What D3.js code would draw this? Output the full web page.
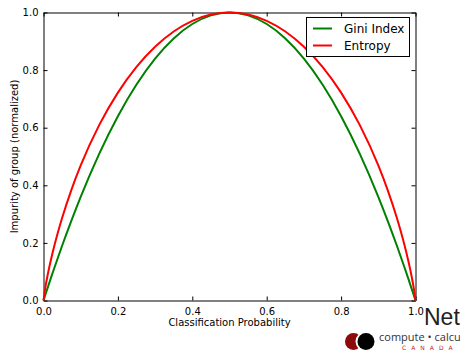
<!DOCTYPE html>
<html><head><meta charset="utf-8">
<script src="https://cdn.jsdelivr.net/npm/d3@7"></script>
<style>body{margin:0;background:#fff;}svg{display:block;font-family:"DejaVu Sans",sans-serif;}</style>
</head><body>
<script>
const probs = [0, 0.005, 0.01, 0.02, 0.03, 0.05, 0.075, 0.1, 0.15, 0.2, 0.25, 0.3, 0.35, 0.4, 0.45, 0.5,
               0.55, 0.6, 0.65, 0.7, 0.75, 0.8, 0.85, 0.9, 0.925, 0.95, 0.97, 0.98, 0.99, 0.995, 1];
const gini = [0, 0.0199, 0.0396, 0.0784, 0.1164, 0.19, 0.2775, 0.36, 0.51, 0.64, 0.75, 0.84, 0.91, 0.96, 0.99, 1.0,
              0.99, 0.96, 0.91, 0.84, 0.75, 0.64, 0.51, 0.36, 0.2775, 0.19, 0.1164, 0.0784, 0.0396, 0.0199, 0];
const entropy = [0, 0.0454, 0.0808, 0.1414, 0.1944, 0.2864, 0.3843, 0.469, 0.6098, 0.7219, 0.8113, 0.8813, 0.9341, 0.971, 0.9928, 1.0,
                 0.9928, 0.971, 0.9341, 0.8813, 0.8113, 0.7219, 0.6098, 0.469, 0.3843, 0.2864, 0.1944, 0.1414, 0.0808, 0.0454, 0];
const tickVals = [0, 0.2, 0.4, 0.6, 0.8, 1.0];
const seriesNames = ["Gini Index", "Entropy"];
const seriesColors = ["#008000", "#ff0000"];

const W = 460, H = 351;
const svg = d3.select("body").append("svg").attr("width", W).attr("height", H);
const x = d3.scaleLinear().domain([0, 1]).range([43.5, 415.5]);
const y = d3.scaleLinear().domain([0, 1]).range([300.5, 12.5]);

const fmt = d3.format(".1f");
// axes
const gB = svg.append("g").attr("transform", `translate(0,${y(0)})`)
  .call(d3.axisBottom(x).tickValues(tickVals).tickFormat(fmt).tickSizeInner(-4).tickSizeOuter(0).tickPadding(5));
const gT = svg.append("g").attr("transform", `translate(0,${y(1)})`)
  .call(d3.axisTop(x).tickValues(tickVals).tickFormat("").tickSizeInner(-4).tickSizeOuter(0));
const gL = svg.append("g").attr("transform", `translate(${x(0)},0)`)
  .call(d3.axisLeft(y).tickValues(tickVals).tickFormat(fmt).tickSizeInner(-4).tickSizeOuter(0).tickPadding(5));
const gR = svg.append("g").attr("transform", `translate(${x(1)},0)`)
  .call(d3.axisRight(y).tickValues(tickVals).tickFormat("").tickSizeInner(-4).tickSizeOuter(0));
[gB, gT, gL, gR].forEach(g => {
  g.select(".domain").attr("stroke", "#000").attr("stroke-width", 1);
  g.selectAll(".tick line").attr("stroke", "#000");
  g.selectAll("text").attr("font-family", "DejaVu Sans").attr("font-size", 10).attr("fill", "#000");
});
gB.selectAll("text").attr("dy", "0.9em");

// lines
const data = [gini, entropy];
const line = d3.line().x((d, i) => x(probs[i])).y(d => y(d)).curve(d3.curveMonotoneX);
data.forEach((s, k) => {
  svg.append("path").datum(s).attr("d", line).attr("fill", "none")
    .attr("stroke", seriesColors[k]).attr("stroke-width", 2);
});

// axis labels
svg.append("text").attr("x", (x(0) + x(1)) / 2).attr("y", 326).attr("text-anchor", "middle")
  .attr("font-size", 10).text("Classification Probability");
svg.append("text").attr("transform", `translate(18,${(y(0) + y(1)) / 2}) rotate(-90)`)
  .attr("text-anchor", "middle").attr("font-size", 10).text("Impurity of group (normalized)");

// legend
const lg = svg.append("g");
lg.append("rect").attr("x", 306.5).attr("y", 17.5).attr("width", 103).attr("height", 39)
  .attr("fill", "#fff").attr("stroke", "#000").attr("stroke-width", 1);
seriesNames.forEach((n, k) => {
  const yy = 28.5 + k * 17;
  lg.append("line").attr("x1", 313).attr("x2", 332).attr("y1", yy).attr("y2", yy)
    .attr("stroke", seriesColors[k]).attr("stroke-width", 2);
  lg.append("text").attr("x", 344).attr("y", yy).attr("dy", "0.35em").attr("font-size", 12).text(n);
});

// logo
const logo = svg.append("g");
logo.append("circle").attr("cx", 353.5).attr("cy", 341.5).attr("r", 8.5).attr("fill", "#8c0a0a");
logo.append("circle").attr("cx", 365).attr("cy", 341.5).attr("r", 9.5).attr("fill", "#fff");
logo.append("circle").attr("cx", 366).attr("cy", 341.5).attr("r", 8.5).attr("fill", "#000");
logo.append("text").attr("x", 424).attr("y", 325).attr("font-family", "Liberation Sans")
  .attr("font-size", 23).attr("fill", "#222").text("Net");
logo.append("text").attr("x", 379).attr("y", 341).attr("font-family", "Open Sans")
  .attr("font-size", 11).attr("fill", "#333").text("compute • calcu");
logo.append("text").attr("x", 402).attr("y", 350).attr("font-family", "DejaVu Sans")
  .attr("font-size", 6).attr("letter-spacing", 5).attr("fill", "#c02020").text("CANADA");
</script>
</body></html>
